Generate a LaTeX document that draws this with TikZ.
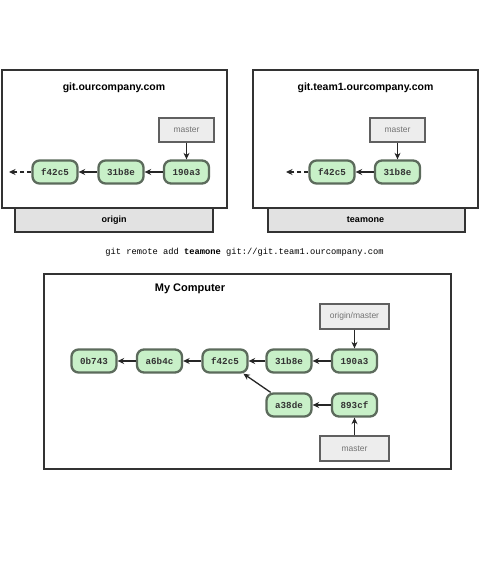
\documentclass[tikz,border=0pt]{standalone}
\usepackage{fontspec}
\setmainfont{Liberation Sans}
\setmonofont{Liberation Mono}
\usetikzlibrary{arrows.meta}
\definecolor{cfill}{HTML}{C8F0C8}
\definecolor{cdraw}{HTML}{5C6B5C}
\definecolor{lfill}{HTML}{EDEDED}
\definecolor{ldraw}{HTML}{606060}
\definecolor{tfill}{HTML}{E2E2E2}
\tikzset{
  commit/.style={draw=cdraw, fill=cfill, line width=2.3pt, rounded corners=7pt,
    minimum width=45pt, minimum height=23pt, inner sep=0pt,
    font=\fontsize{9.2}{10}\selectfont\ttfamily\bfseries, text=black!80},
  lbl/.style={draw=ldraw, fill=lfill, line width=1.2pt, minimum width=55pt,
    minimum height=24pt, inner sep=0pt, font=\fontsize{8.5}{9}\selectfont, text=black!55},
  wlbl/.style={lbl, minimum width=69pt, minimum height=25pt},
  host/.style={draw=black!80, fill=white, line width=1.4pt},
  tab/.style={draw=black!80, fill=tfill, line width=1.4pt},
  ttl/.style={font=\fontsize{10.5}{12}\selectfont\bfseries},
  tabtxt/.style={font=\fontsize{9}{10}\selectfont\bfseries},
  arr/.style={draw=black!85, line width=1.3pt, -{Stealth[length=6.5pt,width=6pt]}},
  darr/.style={arr, dash pattern=on 4pt off 3pt}
}
\begin{document}
\begin{tikzpicture}[x=1pt,y=-1pt]
\useasboundingbox (0,0) rectangle (487,574);
% left server
\draw[tab] (15,208) rectangle (213,232);
\draw[host] (2,70) rectangle (227,208);
\node[tabtxt] (origin) at (114,220) {origin};
\node[ttl] (t1) at (114,88) {git.ourcompany.com};
\node[lbl] (m1) at (186.5,130) {master};
\node[commit] (a190) at (186.5,172) {190a3};
\node[commit] (a31) at (121,172) {31b8e};
\node[commit] (af42) at (55,172) {f42c5};
\coordinate (aend) at (9,172);
\draw[arr] (m1) -- (a190);
\draw[arr] (a190) -- (a31);
\draw[arr] (a31) -- (af42);
\draw[darr] (af42) -- (aend);
% right server
\draw[tab] (268,208) rectangle (465,232);
\draw[host] (253,70) rectangle (478,208);
\node[tabtxt] (teamone) at (365.5,220) {teamone};
\node[ttl] (t2) at (365.5,88) {git.team1.ourcompany.com};
\node[lbl] (m2) at (397.5,130) {master};
\node[commit] (b31) at (397.5,172) {31b8e};
\node[commit] (bf42) at (332,172) {f42c5};
\coordinate (bend) at (286,172);
\draw[arr] (m2) -- (b31);
\draw[arr] (b31) -- (bf42);
\draw[darr] (bf42) -- (bend);
% command
\node[font=\fontsize{8.75}{10}\selectfont\ttfamily] (cmd) at (244.5,252) {git remote add \textbf{teamone} git://git.team1.ourcompany.com};
% my computer
\draw[host] (44,274) rectangle (451,469);
\node[font=\fontsize{11}{12}\selectfont\bfseries] (t3) at (190,289) {My Computer};
\node[wlbl] (om) at (354.5,316.5) {origin/master};
\node[commit] (c190) at (354.5,361) {190a3};
\node[commit] (c31) at (289,361) {31b8e};
\node[commit] (cf42) at (225,361) {f42c5};
\node[commit] (ca6) at (159.5,361) {a6b4c};
\node[commit] (c0b) at (94,361) {0b743};
\node[commit] (ca38) at (289,405) {a38de};
\node[commit] (c893) at (354.5,405) {893cf};
\node[wlbl] (mm) at (354.5,448.5) {master};
\draw[arr] (om) -- (c190);
\draw[arr] (c190) -- (c31);
\draw[arr] (c31) -- (cf42);
\draw[arr] (cf42) -- (ca6);
\draw[arr] (ca6) -- (c0b);
\draw[arr] (c893) -- (ca38);
\draw[arr] (ca38) -- (cf42);
\draw[arr] (mm) -- (c893);
\end{tikzpicture}
\end{document}
